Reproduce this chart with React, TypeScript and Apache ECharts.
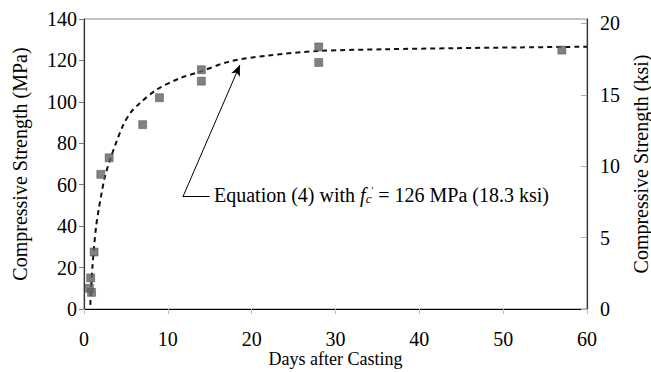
import React, { useEffect, useRef } from "react";
import * as echarts from "echarts";

// Measured specimens: age (days) and compressive strength (MPa)
const testDays = [0.65, 0.9, 0.8, 1.2, 2, 3, 7, 9, 14, 14, 28, 28, 57];
const testMPa = [10, 8, 15, 27.5, 65, 73, 89, 102, 115.5, 110, 126.5, 119, 125];

// Equation (4) curve
const curveDays = [0.75, 0.85, 1.0, 1.2, 1.45, 1.75, 2.1, 2.5, 3.1, 3.9, 4.7, 5.6, 6.7, 8.7, 11.5, 13.8, 17.4, 21.8, 28.2, 36, 44, 52, 60];
const curveMPa = [2, 10, 20, 30, 40, 48, 56, 64, 72, 81, 89, 95, 99.5, 106, 111.5, 114.5, 119.5, 122.3, 124.6, 125.4, 125.9, 126.3, 126.6];

const xTicks = [0, 10, 20, 30, 40, 50, 60];
const ksiTicks = [0, 5, 10, 15, 20];

// Annotation anchor points (data coords)
const arrowStart = [11.8, 54.2];
const arrowTip = [18.6, 117.8];
const leaderEnd = [15.0, 54.2];

const FONT = "'Liberation Serif', 'Times New Roman', Times, serif";

export default function App() {
  const ref = useRef<HTMLDivElement>(null);
  useEffect(() => {
    if (!ref.current) return;
    const chart = echarts.init(ref.current, null, { renderer: "svg" });
    const textBase = { color: "#000", fontFamily: FONT, fontSize: 20 };
    chart.setOption({
      animation: false,
      backgroundColor: "#fff",
      textStyle: { fontFamily: FONT },
      grid: {
        left: 84,
        right: 64,
        top: 19,
        bottom: 63,
        containLabel: false,
        outerBoundsMode: "none",
        show: true,
        borderColor: "#8a8a8a",
        borderWidth: 1,
        backgroundColor: "transparent",
      },
      xAxis: {
        type: "value",
        min: xTicks[0],
        max: xTicks[xTicks.length - 1],
        interval: 10,
        name: "Days after Casting",
        nameLocation: "middle",
        nameGap: 41,
        nameMoveOverlap: false,
        nameTextStyle: { ...textBase, fontSize: 18, lineHeight: 18 },
        axisLine: { show: true, lineStyle: { color: "#000", width: 1.2 } },
        axisTick: { show: true, length: 5, lineStyle: { color: "#bbb" } },
        axisLabel: { ...textBase, margin: 21, lineHeight: 18 },
        splitLine: { show: false },
      },
      yAxis: [
        {
          type: "value",
          min: 0,
          max: 140,
          interval: 20,
          position: "left",
          name: "Compressive Strength (MPa)",
          nameLocation: "middle",
          nameRotate: 90,
          nameGap: 54,
          nameMoveOverlap: false,
          nameTextStyle: textBase,
          axisLine: { show: true, lineStyle: { color: "#333", width: 1.2 } },
          axisTick: { show: true, length: 5, lineStyle: { color: "#777" } },
          axisLabel: { ...textBase, margin: 7 },
          splitLine: { show: false },
        },
        {
          type: "value",
          min: 0,
          max: 140 / 6.895,
          position: "right",
          name: "Compressive Strength (ksi)",
          nameLocation: "middle",
          nameRotate: 90,
          nameGap: 44,
          nameMoveOverlap: false,
          nameTextStyle: { ...textBase, lineHeight: 20 },
          axisLine: { show: true, lineStyle: { color: "#333", width: 1.2 } },
          axisTick: { show: true, inside: true, length: 6, lineStyle: { color: "#aaa" }, customValues: ksiTicks },
          axisLabel: { ...textBase, margin: 13, customValues: ksiTicks },
          splitLine: { show: false },
        },
      ],
      series: [
        {
          type: "line",
          yAxisIndex: 0,
          data: curveDays.map((d, i) => [d, curveMPa[i]]),
          smooth: 0.3,
          showSymbol: false,
          symbol: "none",
          z: 2,
          lineStyle: { color: "#111", width: 2, type: [5, 4] },
          markLine: {
            silent: true,
            symbol: ["none", "none"],
            label: { show: false },
            lineStyle: { color: "#000", width: 1, type: "solid" },
            data: [
              [
                { coord: arrowStart, symbol: "none" },
                { coord: arrowTip, symbol: "arrow", symbolSize: [7, 11] },
              ],
              [
                { coord: arrowStart, symbol: "none" },
                { coord: leaderEnd, symbol: "none" },
              ],
            ],
          },
        },
        {
          type: "scatter",
          yAxisIndex: 0,
          data: testDays.map((d, i) => [d, testMPa[i]]),
          symbol: "rect",
          symbolSize: 8,
          z: 3,
          itemStyle: { color: "#616161", borderColor: "#4a4a4a", borderWidth: 0.6 },
        },
      ],
      graphic: [
        {
          type: "text",
          left: 214,
          top: 185,
          style: {
            text: "Equation (4) with {f|f}{c|c}{p|'} = 126 MPa (18.3 ksi)",
            fontFamily: FONT,
            fontSize: 20,
            fill: "#000",
            rich: {
              f: { fontFamily: FONT, fontSize: 20, fontStyle: "italic", fill: "#000" },
              c: { fontFamily: FONT, fontSize: 13, fontStyle: "italic", fill: "#000", verticalAlign: "bottom", lineHeight: 10 },
              p: { fontFamily: FONT, fontSize: 10, fill: "#000", verticalAlign: "top", lineHeight: 8 },
            },
          },
        },
      ],
    });
    return () => chart.dispose();
  }, []);
  return (
    <div
      ref={ref}
      style={{ position: "fixed", left: 0, top: 0, width: 651, height: 372 }}
    />
  );
}
